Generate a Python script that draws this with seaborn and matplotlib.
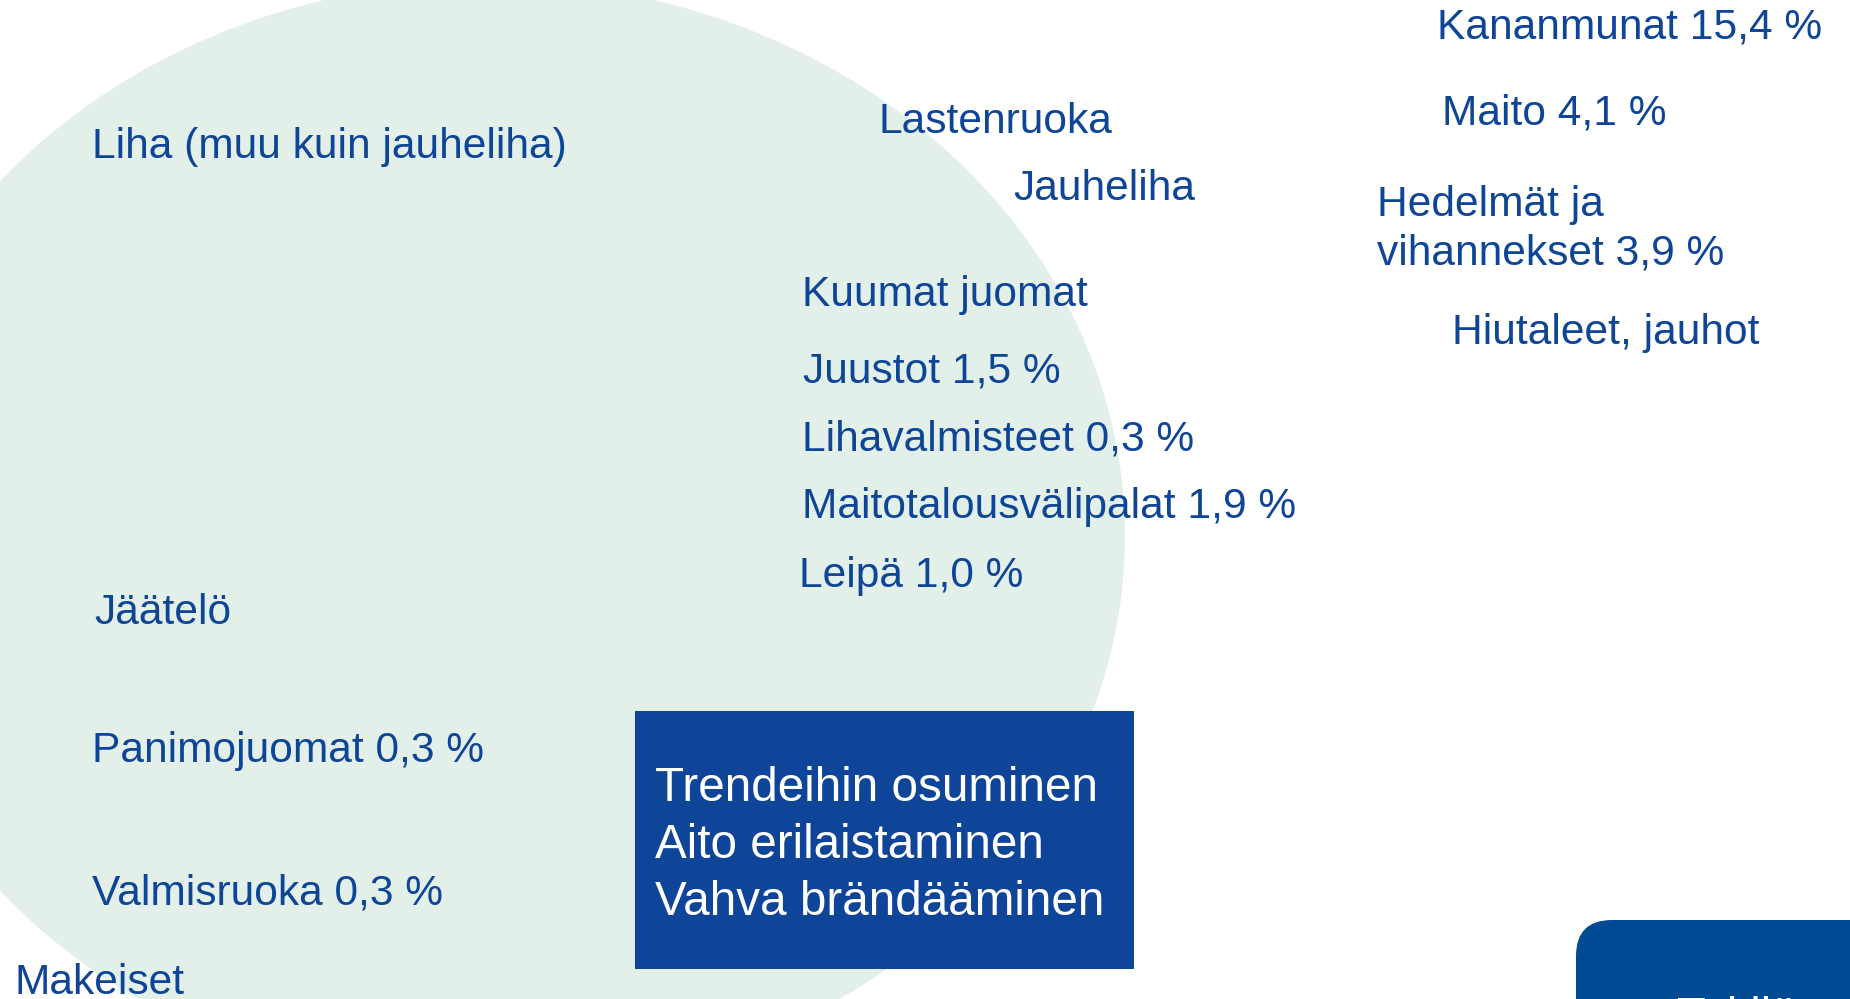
import matplotlib
matplotlib.use("Agg")
import matplotlib.pyplot as plt
from matplotlib.patches import Ellipse, Rectangle, FancyBboxPatch
import seaborn as sns

# ---- data ----
categories = ["Kananmunat", "Maito", "Hedelmät ja\nvihannekset", "Hiutaleet, jauhot",
              "Lastenruoka", "Jauheliha", "Kuumat juomat", "Juustot", "Lihavalmisteet",
              "Maitotalousvälipalat", "Leipä", "Liha (muu kuin jauheliha)", "Jäätelö",
              "Panimojuomat", "Valmisruoka", "Makeiset"]
values = [15.4, 4.1, 3.9, None, None, None, None, 1.5, 0.3, 1.9, 1.0, None, None, 0.3, 0.3, None]
box_lines = ["Trendeihin osuminen", "Aito erilaistaminen", "Vahva brändääminen"]
corner_text = "Tekijät"

# ---- layout (pixel positions, y downwards; y = baseline of the last line) ----
label_x = [1437, 1442, 1377, 1452, 878, 1013, 802, 803, 802, 802, 799, 92, 94, 92, 92, 14]
label_y = [39, 124, 265, 344, 133, 200, 306, 382, 450, 518, 587, 158, 624, 762, 905, 994]

W, H = 1850, 999
TXT = "#0E4597"

sns.set_theme(style="white")
plt.rcParams["font.family"] = ["Liberation Sans", "DejaVu Sans"]

fig = plt.figure(figsize=(W / 100, H / 100), dpi=100)
ax = fig.add_axes([0, 0, 1, 1])
ax.set_xlim(0, W)
ax.set_ylim(H, 0)
ax.axis("off")

# light green background circle
ax.add_patch(Ellipse((489, 536), 1272, 1110, facecolor="#E3F0EA", edgecolor="none", zorder=0))


def fmt(v):
    return "" if v is None else " " + f"{v:.1f}".replace(".", ",") + " %"


for name, v, x, y in zip(categories, values, label_x, label_y):
    ax.text(x, y, name + fmt(v), fontsize=30.6, color=TXT, ha="left", va="baseline",
            linespacing=1.3, zorder=3)

# central dark blue box
ax.add_patch(Rectangle((635, 711), 499, 258, facecolor="#0E4598", edgecolor="none", zorder=2))
for i, line in enumerate(box_lines):
    ax.text(655, 801 + 57 * i, line, fontsize=34.3, color="white", ha="left", va="baseline", zorder=3)

# bottom-right rounded box (partially outside the canvas)
ax.add_patch(FancyBboxPatch((1576 + 36, 920 + 36), 400, 200,
                            boxstyle="round,pad=36,rounding_size=36",
                            facecolor="#004A93", edgecolor="none", zorder=2))
ax.text(1677, 996, corner_text, fontsize=34, color="white", ha="left", va="top", zorder=3)

fig.savefig("out.png", dpi=100)
